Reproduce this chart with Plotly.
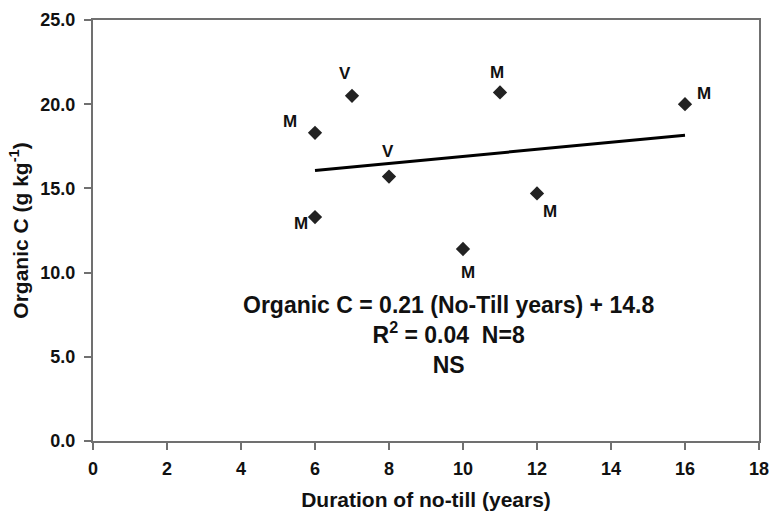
import plotly.graph_objects as go
import numpy as np

# ---- data ----
years = [6, 6, 7, 8, 10, 11, 12, 16]
organic_c = [18.3, 13.3, 20.5, 15.7, 11.4, 20.7, 14.7, 20.0]
site_labels = ["M", "M", "V", "V", "M", "M", "M", "M"]

slope = 0.21
intercept = 14.8
fit_x = [6, 16]

x_ticks = [0, 2, 4, 6, 8, 10, 12, 14, 16, 18]
y_ticks = [0, 5, 10, 15, 20, 25]
y_tick_text = ["0.0", "5.0", "10.0", "15.0", "20.0", "25.0"]

eq_lines = ["Organic C = 0.21 (No-Till years) + 14.8",
            "R<sup>2</sup> = 0.04&nbsp;&nbsp;N=8",
            "NS"]

# label offsets (pixels, x right / y up)
label_dx = [-25, -14, -7, -1, 5, -3, 13, 19]
label_dy = [11, -6, 22, 25, -23, 20, -18, 11]

FONT = "Liberation Sans, Arial, Helvetica, sans-serif"
FRAME = "#707070"
TXT = "#111111"

fit_y = list(np.array(fit_x) * slope + intercept)

fig = go.Figure()
fig.add_trace(go.Scatter(
    x=fit_x, y=fit_y, mode="lines",
    line=dict(color="black", width=3), hoverinfo="skip", showlegend=False))
fig.add_trace(go.Scatter(
    x=years, y=organic_c, mode="markers",
    marker=dict(symbol="diamond", size=11, color="#222222"),
    showlegend=False))

for xv, yv, lab, dx, dy in zip(years, organic_c, site_labels, label_dx, label_dy):
    fig.add_annotation(x=xv, y=yv, text="<b>" + lab + "</b>", showarrow=False,
                       xshift=dx, yshift=dy,
                       font=dict(family=FONT, size=17, color=TXT))

fig.add_annotation(x=9.62, y=6.3, xref="x", yref="y",
                   text="<b>" + "<br>".join(eq_lines) + "</b>",
                   showarrow=False, align="center",
                   font=dict(family=FONT, size=23, color=TXT))

fig.update_layout(
    width=769, height=512,
    margin=dict(l=93, r=10, t=20, b=71),
    paper_bgcolor="white", plot_bgcolor="white",
    font=dict(family=FONT, color=TXT, size=17),
    xaxis=dict(
        range=[0, 18], tickvals=x_ticks, ticktext=["<b>%d</b>" % v for v in x_ticks],
        automargin=False, ticklabeloverflow="allow",
        showgrid=False, zeroline=False, showline=True, mirror=True,
        linecolor=FRAME, linewidth=2, ticks="outside", ticklen=7,
        tickcolor=FRAME, tickwidth=1.5, ticklabelstandoff=3,
        tickfont=dict(family=FONT, size=18, color=TXT),
        title=dict(text="<b>Duration of no-till (years)</b>",
                   font=dict(family=FONT, size=21, color=TXT)),
    ),
    yaxis=dict(
        range=[0, 25], tickvals=y_ticks, ticktext=["<b>%s</b>" % t for t in y_tick_text],
        automargin=False, ticklabeloverflow="allow",
        showgrid=False, zeroline=False, showline=True, mirror=True,
        linecolor=FRAME, linewidth=2, ticks="outside", ticklen=7,
        tickcolor=FRAME, tickwidth=1.5, ticklabelstandoff=5,
        tickfont=dict(family=FONT, size=18, color=TXT),
        title=dict(text="<b>Organic C (g kg<sup>-1</sup>)</b>", standoff=6,
                   font=dict(family=FONT, size=21, color=TXT)),
    ),
)

fig.write_html(
    "out.html",
    config={"displayModeBar": False},
    post_script="document.body.style.margin='0';document.body.style.padding='0';",
)
